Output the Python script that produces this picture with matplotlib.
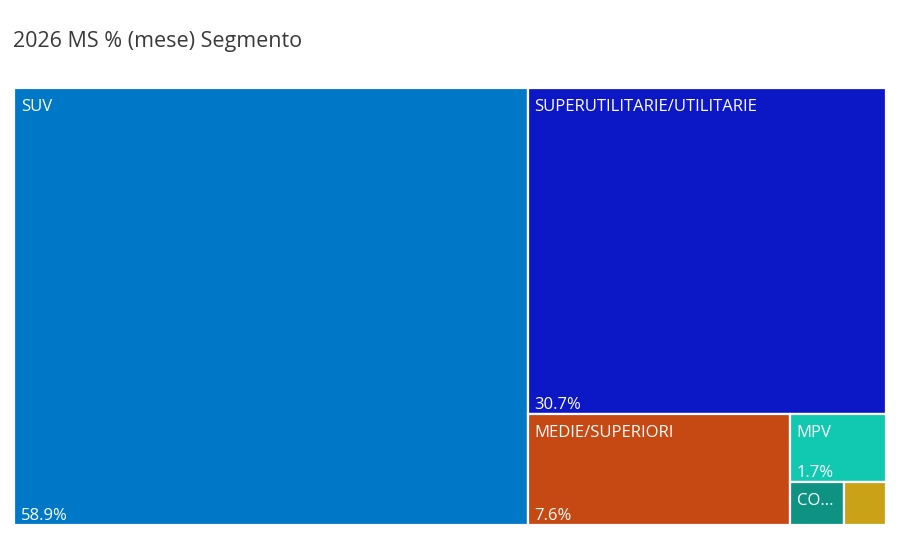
import matplotlib
matplotlib.use("Agg")
import matplotlib.pyplot as plt
from matplotlib.patches import Rectangle

plt.rcParams["font.family"] = ["Open Sans", "DejaVu Sans"]

title = "2026 MS % (mese) Segmento"
segments = ["SUV", "SUPERUTILITARIE/UTILITARIE", "MEDIE/SUPERIORI", "MPV", "CO...", ""]
shares = [58.9, 30.7, 7.6, 1.7, 0.62, 0.48]
show_value = [True, True, True, True, False, False]
colors = ["#0078C8", "#0C17C5", "#C64913", "#10C9B0", "#0E9382", "#C9A217"]


def worst(row, side):
    s = sum(row)
    return max(max(side * side * r / (s * s), s * s / (side * side * r)) for r in row)


def squarify(areas, x, y, w, h):
    # plain squarified treemap layout
    rects = []
    areas = list(areas)
    while areas:
        side = min(w, h)
        row = [areas.pop(0)]
        while areas and worst(row + [areas[0]], side) <= worst(row, side):
            row.append(areas.pop(0))
        s = sum(row)
        if w >= h:
            cw = s / h
            yy = y
            for a in row:
                rects.append((x, yy, cw, a / cw))
                yy += a / cw
            x += cw
            w -= cw
        else:
            rh = s / w
            xx = x
            for a in row:
                rects.append((xx, y, a / rh, rh))
                xx += a / rh
            y += rh
            h -= rh
    return rects


W, H = 872.0, 437.0
total = sum(shares)
areas = [v / total * W * H for v in shares]
rects = squarify(areas, 0, 0, W, H)

fig = plt.figure(figsize=(9, 5.53), dpi=100)
ax = fig.add_axes([14 / 900, 1 - 525 / 553, 872 / 900, 437 / 553])
ax.set_xlim(0, W)
ax.set_ylim(H, 0)
ax.axis("off")

for (x, y, w, h), name, val, show, c in zip(rects, segments, shares, show_value, colors):
    ax.add_patch(Rectangle((x, y), w, h, facecolor=c, edgecolor="white", linewidth=1.6))
    if name:
        ax.annotate(name, xy=(x, y), xytext=(7, -23), textcoords="offset pixels",
                    ha="left", va="baseline", color="white", fontsize=12)
    if show:
        ax.annotate(f"{val:.1f}%", xy=(x, y + h), xytext=(7, 5), textcoords="offset pixels",
                    ha="left", va="baseline", color="white", fontsize=12)

fig.text(13 / 900, 1 - 47 / 553, title, ha="left", va="baseline", fontsize=15.5, color="#3a3a3a")

fig.savefig("out.png", dpi=100, facecolor="white")
